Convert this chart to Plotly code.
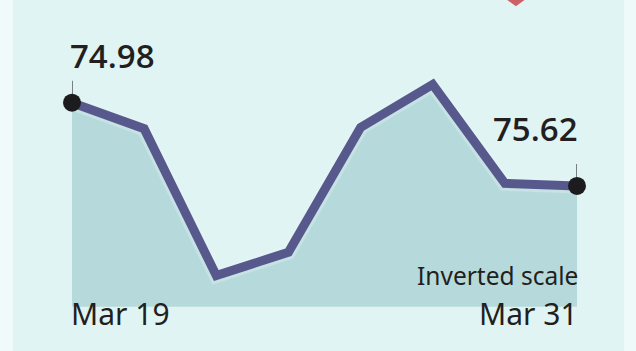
import plotly.graph_objects as go

# Exchange-rate series, plotted on an inverted scale
dates = ["Mar 19", "Mar 20", "Mar 21", "Mar 24", "Mar 25", "Mar 26", "Mar 27", "Mar 31"]
values = [74.98, 75.18, 76.31, 76.13, 75.17, 74.84, 75.60, 75.62]
scale_note = "Inverted scale"
fill_base = 76.55
y_top, y_bottom = 74.19, 76.89

BG = "#e0f4f3"
LINE = "#57598c"
FILL = "#b6dadb"
TEXT = "#231f20"
FONT = "Noto Sans"
NUM_FONT = "Open Sans"

x = list(range(len(values)))

fig = go.Figure()

# baseline for the shaded area
fig.add_trace(go.Scatter(
    x=x, y=[fill_base] * len(values), mode="lines",
    line=dict(width=0, color=FILL), hoverinfo="skip", showlegend=False,
))
# area under the line
fig.add_trace(go.Scatter(
    x=x, y=values, mode="lines", fill="tonexty", fillcolor=FILL,
    line=dict(width=0, color=FILL), hoverinfo="skip", showlegend=False,
))
# soft glow behind the line
fig.add_trace(go.Scatter(
    x=x, y=values, mode="lines",
    line=dict(width=15, color="rgba(236,246,250,0.3)"),
    hoverinfo="skip", showlegend=False, cliponaxis=False,
))
# main line
fig.add_trace(go.Scatter(
    x=x, y=values, mode="lines",
    line=dict(width=9, color=LINE),
    hoverinfo="skip", showlegend=False, cliponaxis=False,
))
# end-point markers
ends = [0, len(values) - 1]
fig.add_trace(go.Scatter(
    x=[x[i] for i in ends], y=[values[i] for i in ends], mode="markers",
    marker=dict(size=18, color="#1c1c1e", line=dict(width=0)),
    hoverinfo="skip", showlegend=False, cliponaxis=False,
))

shapes = []
# thin leader ticks above the end markers
for i in ends:
    shapes.append(dict(
        type="line", xref="x", yref="y",
        xsizemode="pixel", ysizemode="pixel",
        xanchor=x[i], yanchor=values[i],
        x0=0, x1=0, y0=0, y1=22,
        line=dict(color="#333333", width=1.2), layer="below",
    ))
# light margins at the left and right edges
shapes.append(dict(type="rect", xref="paper", yref="paper",
                   x0=-0.16, x1=-0.117, y0=0, y1=1,
                   fillcolor="#f1fafa", line=dict(width=0), layer="below"))
shapes.append(dict(type="rect", xref="paper", yref="paper",
                   x0=1.093, x1=1.2, y0=0, y1=1,
                   fillcolor="#eef9f9", line=dict(width=0), layer="below"))
# small red marker at the top edge
shapes.append(dict(type="path", xref="paper", yref="paper",
                   path="M 0.862,1.0 L 0.896,1.0 L 0.879,0.982 Z",
                   fillcolor="rgba(200,45,55,0.75)", line=dict(width=0)))

annotations = [
    dict(x=x[0], y=values[0], xref="x", yref="y", text=f"{values[0]:.2f}",
         showarrow=False, xanchor="left", yanchor="bottom", xshift=-4, yshift=23,
         font=dict(family=NUM_FONT, size=33, color=TEXT, weight=600)),
    dict(x=x[-1], y=values[-1], xref="x", yref="y", text=f"{values[-1]:.2f}",
         showarrow=False, xanchor="right", yanchor="bottom", xshift=3, yshift=33,
         font=dict(family=NUM_FONT, size=33, color=TEXT, weight=600)),
    dict(x=x[0], y=0.0, xref="x", yref="paper", text=dates[0],
         showarrow=False, xanchor="left", yanchor="bottom", xshift=-3, yshift=15,
         font=dict(family=FONT, size=30, color=TEXT)),
    dict(x=x[-1], y=0.0, xref="x", yref="paper", text=dates[-1],
         showarrow=False, xanchor="right", yanchor="bottom", xshift=3, yshift=15,
         font=dict(family=FONT, size=30, color=TEXT)),
    dict(x=x[-1], y=0.0, xref="x", yref="paper", text=scale_note,
         showarrow=False, xanchor="right", yanchor="bottom", xshift=3, yshift=57,
         font=dict(family=FONT, size=24.5, color=TEXT)),
]

fig.update_layout(
    width=636, height=351,
    margin=dict(l=72, r=59, t=0, b=0),
    paper_bgcolor=BG, plot_bgcolor=BG,
    xaxis=dict(range=[0, len(values) - 1], visible=False, fixedrange=True),
    yaxis=dict(range=[y_bottom, y_top], visible=False, fixedrange=True),
    shapes=shapes, annotations=annotations,
    showlegend=False,
)

fig.write_html("out.html")
